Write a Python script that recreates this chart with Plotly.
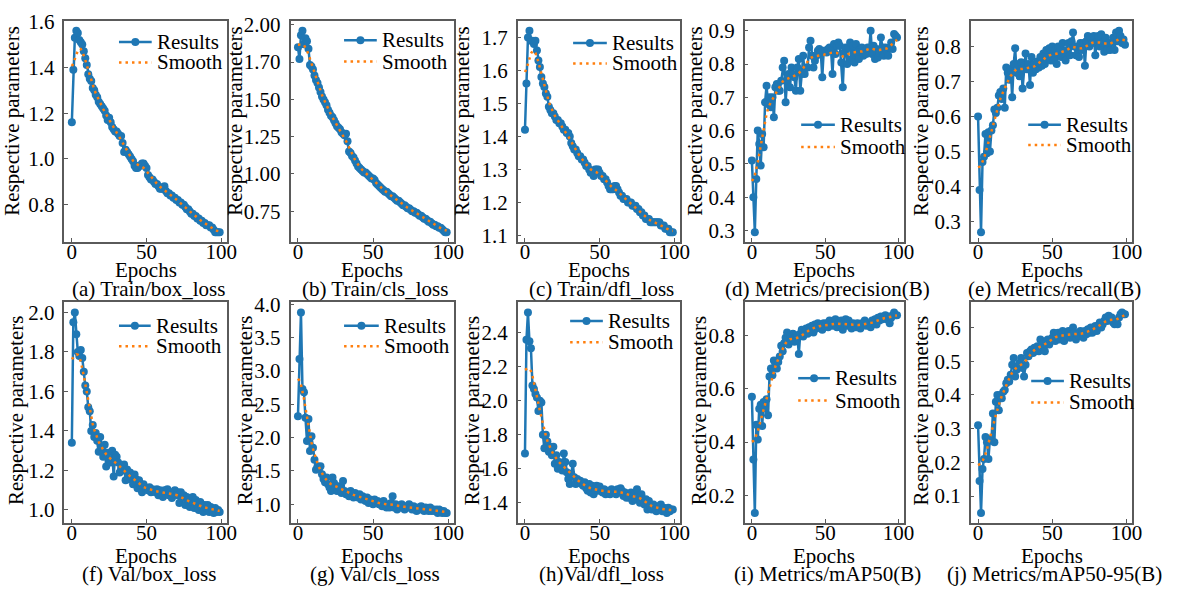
import numpy as np
import plotly.graph_objects as go

# ---------------- data ----------------
epochs = list(range(100))

train_box_loss = [1.16,1.39,1.53,1.56,1.55,1.52,1.51,1.50,1.47,1.44,
1.41,1.37,1.35,1.34,1.31,1.30,1.28,1.27,1.25,1.24,
1.23,1.22,1.21,1.19,1.17,1.18,1.16,1.14,1.13,1.12,
1.12,1.11,1.10,1.10,1.07,1.03,1.04,1.03,1.02,1.01,
1.00,0.99,0.97,0.96,0.96,0.97,0.97,0.98,0.98,0.97,
0.96,0.93,0.92,0.91,0.91,0.90,0.89,0.89,0.88,0.87,
0.87,0.87,0.88,0.86,0.85,0.85,0.84,0.84,0.83,0.83,
0.82,0.82,0.81,0.81,0.80,0.80,0.79,0.78,0.78,0.77,
0.76,0.76,0.75,0.75,0.74,0.74,0.73,0.73,0.72,0.72,
0.71,0.71,0.71,0.70,0.70,0.69,0.68,0.68,0.68,0.68]

train_cls_loss = [1.85,1.77,1.93,1.96,1.87,1.91,1.89,1.84,1.73,1.72,
1.70,1.66,1.63,1.61,1.58,1.55,1.52,1.50,1.48,1.46,
1.43,1.41,1.39,1.38,1.36,1.34,1.32,1.31,1.30,1.28,
1.27,1.26,1.27,1.22,1.15,1.14,1.12,1.11,1.09,1.07,
1.05,1.04,1.03,1.02,1.01,1.01,1.00,0.99,0.98,0.97,
0.97,0.96,0.94,0.93,0.92,0.91,0.90,0.89,0.88,0.88,
0.87,0.86,0.85,0.85,0.84,0.83,0.82,0.82,0.81,0.80,
0.79,0.79,0.78,0.77,0.77,0.76,0.75,0.75,0.74,0.74,
0.73,0.72,0.72,0.71,0.70,0.70,0.69,0.68,0.68,0.67,
0.66,0.66,0.65,0.65,0.64,0.64,0.63,0.62,0.61,0.61]

train_dfl_loss = [1.42,1.56,1.70,1.72,1.69,1.69,1.68,1.69,1.66,1.63,
1.61,1.58,1.56,1.55,1.53,1.52,1.49,1.48,1.47,1.47,
1.46,1.45,1.45,1.44,1.44,1.43,1.42,1.42,1.41,1.41,
1.40,1.38,1.37,1.36,1.36,1.35,1.34,1.34,1.33,1.33,
1.32,1.31,1.31,1.30,1.29,1.29,1.28,1.30,1.30,1.30,
1.29,1.28,1.28,1.27,1.27,1.26,1.25,1.24,1.24,1.24,
1.25,1.25,1.24,1.23,1.22,1.22,1.21,1.21,1.21,1.20,
1.20,1.20,1.19,1.19,1.19,1.18,1.18,1.17,1.17,1.16,
1.16,1.15,1.15,1.15,1.14,1.14,1.14,1.14,1.14,1.14,
1.14,1.13,1.13,1.13,1.12,1.12,1.12,1.11,1.11,1.11]

metrics_precision = [0.51,0.40,0.295,0.455,0.60,0.56,0.495,0.59,0.55,0.685,
0.735,0.68,0.70,0.67,0.70,0.64,0.73,0.74,0.72,0.72,
0.75,0.79,0.81,0.685,0.75,0.77,0.73,0.79,0.77,0.76,
0.72,0.79,0.815,0.72,0.77,0.825,0.77,0.79,0.79,0.85,
0.87,0.825,0.79,0.81,0.825,0.84,0.845,0.835,0.76,0.84,
0.84,0.835,0.845,0.85,0.84,0.77,0.86,0.83,0.855,0.865,
0.855,0.805,0.73,0.835,0.85,0.80,0.85,0.865,0.815,0.855,
0.805,0.86,0.835,0.815,0.845,0.85,0.825,0.84,0.83,0.85,
0.845,0.90,0.83,0.855,0.815,0.845,0.82,0.835,0.88,0.85,
0.825,0.85,0.84,0.825,0.85,0.865,0.845,0.89,0.885,0.88]

metrics_recall = [0.60,0.39,0.27,0.47,0.485,0.55,0.495,0.555,0.50,0.56,
0.575,0.62,0.61,0.625,0.66,0.67,0.65,0.68,0.625,0.74,
0.725,0.705,0.735,0.655,0.75,0.795,0.725,0.75,0.715,0.755,
0.68,0.745,0.78,0.735,0.75,0.69,0.77,0.725,0.75,0.735,
0.757,0.74,0.77,0.745,0.78,0.75,0.79,0.765,0.795,0.76,
0.80,0.76,0.79,0.75,0.80,0.785,0.77,0.81,0.78,0.76,
0.79,0.81,0.775,0.815,0.84,0.80,0.775,0.80,0.77,0.81,
0.79,0.81,0.745,0.815,0.83,0.80,0.825,0.81,0.83,0.775,
0.815,0.83,0.80,0.835,0.81,0.785,0.825,0.79,0.81,0.79,
0.81,0.825,0.79,0.84,0.815,0.845,0.83,0.81,0.82,0.805]

val_box_loss = [1.34,1.95,2.00,1.89,1.80,1.78,1.81,1.77,1.70,1.63,
1.60,1.52,1.50,1.40,1.43,1.37,1.39,1.35,1.295,1.37,
1.32,1.27,1.33,1.22,1.29,1.255,1.24,1.30,1.17,1.28,
1.27,1.24,1.19,1.21,1.20,1.23,1.15,1.205,1.155,1.19,
1.17,1.13,1.18,1.155,1.11,1.15,1.125,1.09,1.13,1.115,
1.105,1.10,1.115,1.09,1.105,1.10,1.09,1.105,1.075,1.10,
1.09,1.065,1.10,1.08,1.105,1.075,1.09,1.06,1.08,1.10,
1.075,1.09,1.035,1.09,1.06,1.075,1.025,1.065,1.05,1.015,
1.04,1.065,1.01,1.05,1.025,1.00,1.04,1.015,0.99,1.025,
1.01,1.025,0.99,1.015,1.00,0.985,1.01,0.99,1.00,0.99]

val_cls_loss = [2.32,3.18,3.88,2.73,2.68,2.30,1.95,2.28,1.80,2.02,
1.85,1.67,1.52,1.57,1.55,1.57,1.45,1.38,1.33,1.40,
1.30,1.25,1.20,1.40,1.32,1.27,1.20,1.27,1.25,1.17,
1.35,1.20,1.15,1.17,1.12,1.20,1.15,1.10,1.17,1.12,
1.10,1.15,1.07,1.12,1.07,1.05,1.10,1.02,1.07,1.05,
1.00,1.07,1.02,1.05,1.00,1.02,0.97,1.05,1.00,0.95,
1.00,0.95,1.02,1.12,0.95,1.00,0.92,0.97,0.95,1.00,
0.97,0.92,0.97,0.95,1.00,0.95,0.92,0.97,0.92,0.90,
0.95,0.92,0.97,0.92,0.90,0.95,0.92,0.90,0.95,0.90,
0.92,0.90,0.92,0.87,0.92,0.90,0.87,0.90,0.87,0.87]

val_dfl_loss = [1.69,2.36,2.52,2.35,2.31,2.09,2.07,2.04,2.02,1.94,
2.00,1.99,1.80,1.72,1.80,1.76,1.70,1.73,1.68,1.73,
1.63,1.68,1.60,1.64,1.61,1.59,1.69,1.64,1.58,1.54,
1.51,1.57,1.63,1.55,1.51,1.54,1.52,1.53,1.51,1.50,
1.52,1.485,1.47,1.51,1.46,1.50,1.45,1.48,1.50,1.47,
1.495,1.47,1.46,1.48,1.45,1.47,1.46,1.45,1.48,1.46,
1.47,1.45,1.48,1.46,1.485,1.47,1.44,1.46,1.43,1.45,
1.43,1.46,1.41,1.44,1.42,1.48,1.44,1.40,1.45,1.42,
1.39,1.42,1.36,1.41,1.38,1.36,1.39,1.37,1.35,1.38,
1.36,1.39,1.35,1.37,1.35,1.34,1.37,1.35,1.36,1.36]

metrics_map50 = [0.57,0.335,0.135,0.465,0.41,0.525,0.54,0.46,0.55,0.525,
0.56,0.50,0.645,0.675,0.65,0.705,0.69,0.675,0.70,0.72,
0.76,0.74,0.77,0.79,0.81,0.765,0.80,0.78,0.805,0.775,
0.80,0.795,0.73,0.805,0.82,0.795,0.81,0.825,0.805,0.83,
0.82,0.835,0.81,0.84,0.825,0.845,0.83,0.84,0.82,0.845,
0.835,0.845,0.83,0.855,0.84,0.835,0.845,0.86,0.83,0.845,
0.84,0.855,0.82,0.845,0.86,0.835,0.855,0.84,0.825,0.845,
0.84,0.83,0.845,0.835,0.825,0.845,0.84,0.855,0.835,0.845,
0.84,0.83,0.855,0.845,0.86,0.84,0.865,0.855,0.87,0.86,
0.865,0.875,0.86,0.87,0.845,0.865,0.875,0.885,0.875,0.875]

metrics_map50_95 = [0.31,0.145,0.05,0.18,0.21,0.275,0.26,0.21,0.27,0.265,
0.345,0.26,0.38,0.40,0.355,0.40,0.39,0.41,0.415,0.435,
0.445,0.44,0.46,0.49,0.51,0.455,0.475,0.485,0.495,0.51,
0.48,0.455,0.49,0.525,0.515,0.53,0.535,0.525,0.54,0.53,
0.545,0.53,0.565,0.55,0.54,0.53,0.56,0.565,0.55,0.56,
0.57,0.585,0.56,0.575,0.585,0.565,0.58,0.59,0.56,0.585,
0.575,0.59,0.57,0.58,0.60,0.585,0.565,0.58,0.575,0.59,
0.585,0.57,0.59,0.58,0.595,0.585,0.60,0.585,0.595,0.605,
0.59,0.605,0.615,0.60,0.61,0.62,0.63,0.62,0.635,0.625,
0.63,0.615,0.61,0.62,0.61,0.63,0.64,0.645,0.64,0.64]

series = [train_box_loss, train_cls_loss, train_dfl_loss, metrics_precision, metrics_recall,
          val_box_loss, val_cls_loss, val_dfl_loss, metrics_map50, metrics_map50_95]

captions = ["(a) Train/box_loss", "(b) Train/cls_loss", "(c) Train/dfl_loss",
            "(d) Metrics/precision(B)", "(e) Metrics/recall(B)",
            "(f) Val/box_loss", "(g) Val/cls_loss", "(h)Val/dfl_loss",
            "(i) Metrics/mAP50(B)", "(j) Metrics/mAP50-95(B)"]

ytick_vals = [[0.8, 1.0, 1.2, 1.4, 1.6],
              [0.75, 1.0, 1.25, 1.5, 1.75, 2.0],
              [1.1, 1.2, 1.3, 1.4, 1.5, 1.6, 1.7],
              [0.3, 0.4, 0.5, 0.6, 0.7, 0.8, 0.9],
              [0.3, 0.4, 0.5, 0.6, 0.7, 0.8],
              [1.0, 1.2, 1.4, 1.6, 1.8, 2.0],
              [1.0, 1.5, 2.0, 2.5, 3.0, 3.5, 4.0],
              [1.4, 1.6, 1.8, 2.0, 2.2, 2.4],
              [0.2, 0.4, 0.6, 0.8],
              [0.1, 0.2, 0.3, 0.4, 0.5, 0.6]]
ytick_text = [["0.8", "1.0", "1.2", "1.4", "1.6"],
              ["0.75", "1.00", "1.25", "1.50", "1.70", "2.00"],
              ["1.1", "1.2", "1.3", "1.4", "1.5", "1.6", "1.7"],
              ["0.3", "0.4", "0.5", "0.6", "0.7", "0.8", "0.9"],
              ["0.3", "0.4", "0.5", "0.6", "0.7", "0.8"],
              ["1.0", "1.2", "1.4", "1.6", "1.8", "2.0"],
              ["1.0", "1.5", "2.0", "2.5", "3.0", "3.5", "4.0"],
              ["1.4", "1.6", "1.8", "2.0", "2.2", "2.4"],
              ["0.2", "0.4", "0.6", "0.8"],
              ["0.1", "0.2", "0.3", "0.4", "0.5", "0.6"]]
xtick_vals = [0, 50, 100]

# ---------------- layout (pixels) ----------------
W, H = 1181, 595
FONT = "Times New Roman, Liberation Serif, Times, serif"
BLUE = "#1f77b4"
ORANGE = "#ff7f0e"
FRAME = "#5a5a5a"

col_px = [(65, 229), (293, 458), (522, 686), (751, 912), (979, 1142)]
row_px = [(10, 238), (300, 527)]
ytitle_x = [[12, 237, 466, 701, 929], [16, 247, 476, 705, 929]]
ytitle_y = [113, 411]
epochs_y = [267, 561]
caption_y = [286, 580]
# legend: line x0, x1, y of Results, y of Smooth
legend_px = [(120, 153, 32, 53), (347, 380, 30, 52), (578, 612, 33, 54),
             (808, 842, 117, 140), (1037, 1070, 117, 138),
             (120, 152, 324, 345), (347, 382, 324, 345), (575, 608, 319, 341),
             (805, 837, 378, 401), (1040, 1073, 381, 403)]


def px(x):
    return x / W


def py(y):
    return 1 - y / H


def gauss_smooth(y, sigma=3.0):
    y = np.asarray(y, dtype=float)
    r = int(4 * sigma + 0.5)
    k = np.exp(-0.5 * (np.arange(-r, r + 1) / sigma) ** 2)
    k /= k.sum()
    yp = np.pad(y, r, mode="symmetric")
    return np.convolve(yp, k, mode="valid")


fig = go.Figure()
annotations = []
shapes = []

for i, ys in enumerate(series):
    r, c = divmod(i, 5)
    n = i + 1
    xs = epochs[:len(ys)]
    sm = gauss_smooth(ys)
    xname = "x" if n == 1 else f"x{n}"
    yname = "y" if n == 1 else f"y{n}"
    fig.add_trace(go.Scatter(x=xs, y=ys, mode="lines+markers", name="Results",
                             line=dict(color=BLUE, width=2.5),
                             marker=dict(size=8, color=BLUE),
                             xaxis=xname, yaxis=yname, showlegend=False))
    fig.add_trace(go.Scatter(x=xs, y=sm, mode="lines", name="Smooth",
                             line=dict(color=ORANGE, width=2.5, dash="2.5px,4px"),
                             xaxis=xname, yaxis=yname, showlegend=False))

    ymin, ymax = min(ys), max(ys)
    pad = 0.05 * (ymax - ymin)
    xpad = 0.05 * (xs[-1] - xs[0])
    x0, x1 = col_px[c]
    y0, y1 = row_px[r]
    common = dict(showline=True, mirror=True, linecolor=FRAME, linewidth=1.5,
                  ticks="inside", ticklen=4, tickwidth=1.2, tickcolor=FRAME,
                  showgrid=False, zeroline=False,
                  tickfont=dict(family=FONT, size=21, color="black"))
    fig.layout[("xaxis" if n == 1 else f"xaxis{n}")] = dict(
        domain=[px(x0), px(x1)], range=[xs[0] - xpad, xs[-1] + xpad],
        anchor=yname, tickvals=xtick_vals, ticktext=[str(v) for v in xtick_vals],
        ticklabelstandoff=-10, **common)
    fig.layout[("yaxis" if n == 1 else f"yaxis{n}")] = dict(
        domain=[py(y1), py(y0)], range=[ymin - pad, ymax + pad],
        anchor=xname, tickvals=ytick_vals[i], ticktext=ytick_text[i],
        ticklabelstandoff=4, **common)

    cx = (x0 + x1) / 2
    tf = dict(family=FONT, size=21, color="black")
    annotations.append(dict(x=px(ytitle_x[r][c]), y=py(ytitle_y[r]), xref="paper", yref="paper",
                            text="Respective parameters", textangle=-90, showarrow=False,
                            xanchor="center", yanchor="middle", font=tf))
    annotations.append(dict(x=px(cx), y=py(epochs_y[r]), xref="paper", yref="paper",
                            text="Epochs", showarrow=False, xanchor="center", yanchor="middle", font=tf))
    annotations.append(dict(x=px(cx + 3), y=py(caption_y[r]), xref="paper", yref="paper",
                            text=captions[i], showarrow=False, xanchor="center", yanchor="middle", font=tf))

    # legend
    lx0, lx1, lyr, lys = legend_px[i]
    shapes.append(dict(type="line", xref="paper", yref="paper", x0=px(lx0), x1=px(lx1),
                       y0=py(lyr), y1=py(lyr), line=dict(color=BLUE, width=2.5)))
    shapes.append(dict(type="circle", xref="paper", yref="paper", xsizemode="pixel", ysizemode="pixel",
                       xanchor=px((lx0 + lx1) / 2), yanchor=py(lyr), x0=-4, x1=4, y0=-4, y1=4,
                       fillcolor=BLUE, line=dict(color=BLUE, width=0)))
    shapes.append(dict(type="line", xref="paper", yref="paper", x0=px(lx0), x1=px(lx1),
                       y0=py(lys), y1=py(lys), line=dict(color=ORANGE, width=2.5, dash="2.5px,4px")))
    annotations.append(dict(x=px(lx1 + 3), y=py(lyr), xref="paper", yref="paper", text="Results",
                            showarrow=False, xanchor="left", yanchor="middle", font=tf))
    annotations.append(dict(x=px(lx1 + 3), y=py(lys), xref="paper", yref="paper", text="Smooth",
                            showarrow=False, xanchor="left", yanchor="middle", font=tf))

fig.update_layout(width=W, height=H, margin=dict(l=0, r=0, t=0, b=0),
                  paper_bgcolor="white", plot_bgcolor="white",
                  annotations=annotations, shapes=shapes, showlegend=False,
                  font=dict(family=FONT, color="black"))

fig.write_html("out.html")
